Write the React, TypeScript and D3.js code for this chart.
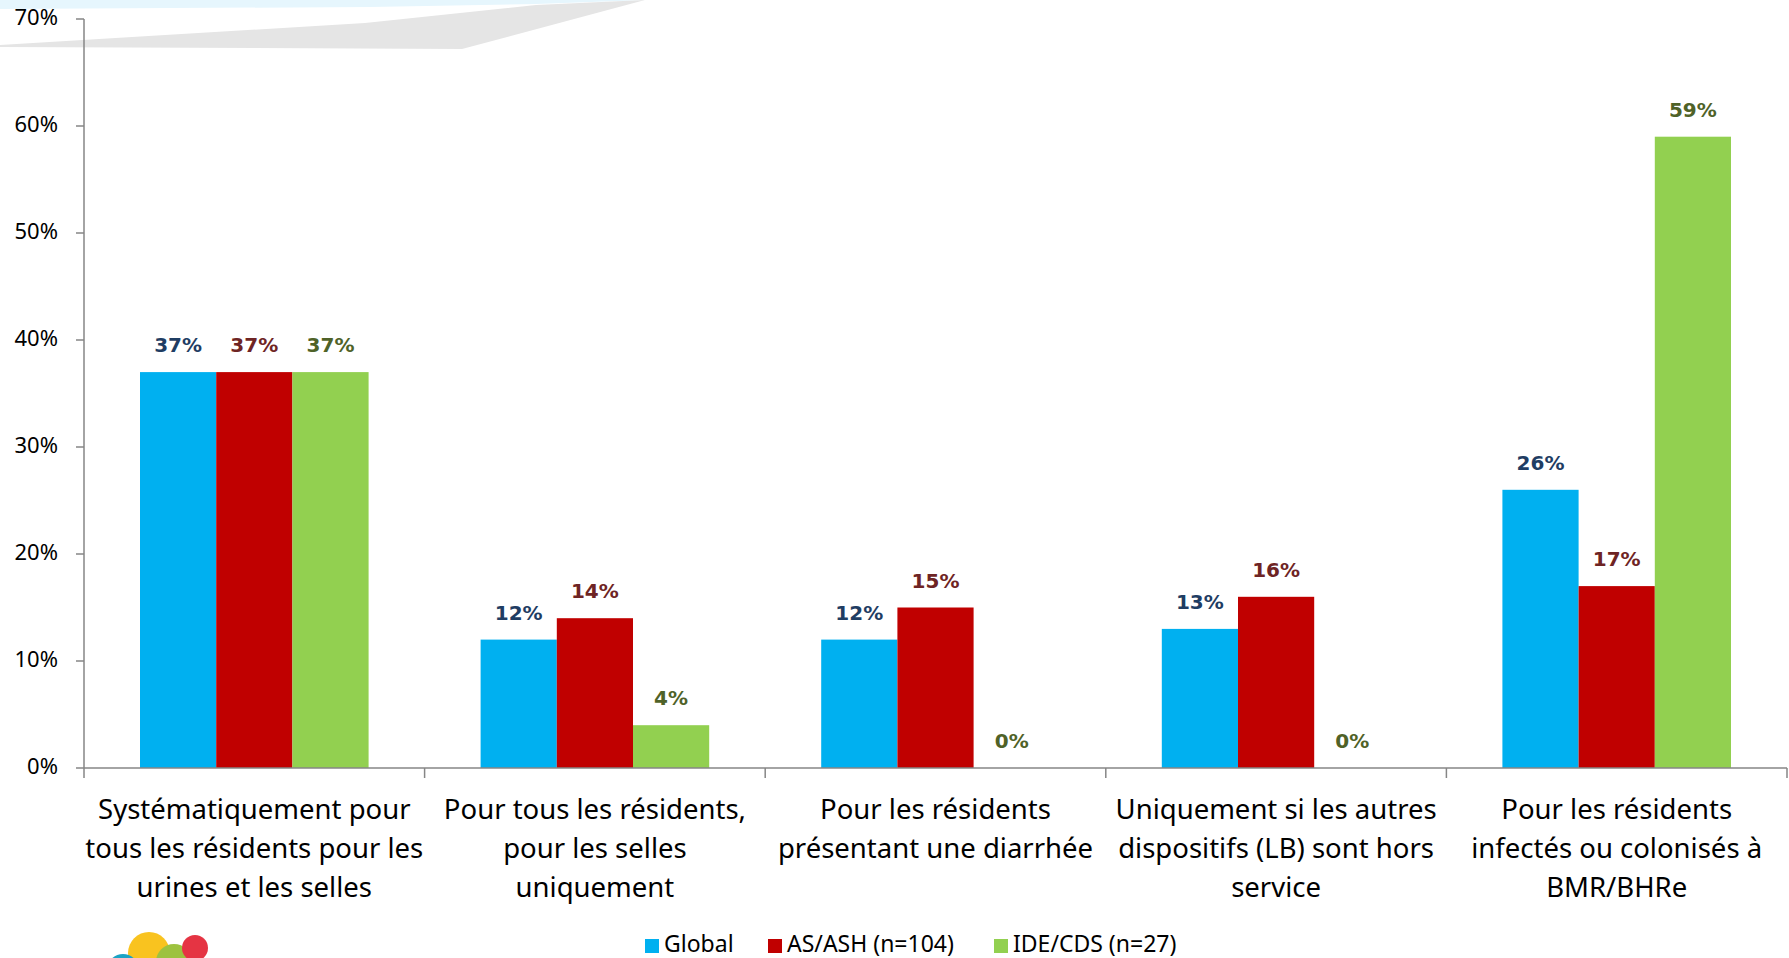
import React from 'react';
import * as d3 from 'd3';

const categories = [
  ['Systématiquement pour', 'tous les résidents pour les', 'urines et les selles'],
  ['Pour tous les résidents,', 'pour les selles', 'uniquement'],
  ['Pour les résidents', 'présentant une diarrhée'],
  ['Uniquement si les autres', 'dispositifs (LB) sont hors', 'service'],
  ['Pour les résidents', 'infectés ou colonisés à', 'BMR/BHRe'],
];
const seriesNames = ['Global', 'AS/ASH (n=104)', 'IDE/CDS (n=27)'];
const globalValues = [37, 12, 12, 13, 26];
const asAshValues = [37, 14, 15, 16, 17];
const ideCdsValues = [37, 4, 0, 0, 59];
const yTicks = [0, 10, 20, 30, 40, 50, 60, 70];

const barColors = ['#00B0F0', '#C00000', '#92D050'];
const labelColors = ['#1F3D63', '#6E2424', '#4F6228'];

const W = 1789;
const H = 958;
const left = 84;
const right = 1787;
const top = 19;
const bottom = 768;

export default function App() {
  const values = [globalValues, asAshValues, ideCdsValues];
  const idx = categories.map((_, i) => i);

  const x0 = d3.scaleBand<number>().domain(idx).range([left, right]);
  const x1 = d3.scaleBand<number>().domain([0, 1, 2]).range([0, x0.bandwidth()]).paddingOuter(0.735);
  const y = d3.scaleLinear().domain([0, 70]).range([bottom, top]);

  const axisColor = '#868686';
  const boundaries = idx.map((i) => x0(i)!).concat([right]);

  return (
    <svg width={W} height={H} style={{ position: 'absolute', left: 0, top: 0, background: '#fff' }}>
      {/* header decoration */}
      <path d="M0,0 L645,0 L536,4 L370,7 L0,9 Z" fill="#E6F6FD" />
      <path d="M0,45 L365,23 L536,5 L645,0 L462,49 L0,47 Z" fill="#E5E5E5" />

      {/* y axis */}
      <line x1={left} x2={left} y1={top} y2={bottom} stroke={axisColor} strokeWidth={1.5} />
      {yTicks.map((t) => (
        <g key={t}>
          <line x1={left - 8} x2={left} y1={y(t)} y2={y(t)} stroke={axisColor} strokeWidth={1.5} />
          <text x={58} y={y(t)} textAnchor="end" dominantBaseline="middle"
            fontFamily="'Noto Sans', sans-serif" fontSize={22} fill="#000">
            {t}%
          </text>
        </g>
      ))}

      {/* bars */}
      {values.map((vals, s) =>
        vals.map((v, i) => {
          const bx = x0(i)! + x1(s)!;
          return (
            <g key={`${s}-${i}`}>
              <rect x={bx} y={y(v)} width={x1.bandwidth()} height={bottom - y(v)} fill={barColors[s]} />
              <text x={bx + x1.bandwidth() / 2} y={y(v) - 20} textAnchor="middle"
                fontFamily="'DejaVu Sans', sans-serif" fontWeight="bold" fontSize={20} fill={labelColors[s]}>
                {v}%
              </text>
            </g>
          );
        })
      )}

      {/* x axis */}
      <line x1={left} x2={right} y1={bottom} y2={bottom} stroke={axisColor} strokeWidth={1.5} />
      {boundaries.map((b, i) => (
        <line key={i} x1={b} x2={b} y1={bottom} y2={bottom + 10} stroke={axisColor} strokeWidth={1.5} />
      ))}
      {categories.map((lines, i) => (
        <text key={i} textAnchor="middle" fontFamily="'Noto Sans', sans-serif" fontSize={27.5} fill="#000">
          {lines.map((l, j) => (
            <tspan key={j} x={x0(i)! + x0.bandwidth() / 2} y={819 + j * 39}>{l}</tspan>
          ))}
        </text>
      ))}

      {/* legend */}
      {[645, 768, 994].map((lx, s) => (
        <g key={s}>
          <rect x={lx} y={939} width={14} height={14} fill={barColors[s]} />
          <text x={lx + 19} y={946} dominantBaseline="middle" fontFamily="'Noto Sans', sans-serif" fontSize={23} fill="#000">
            {seriesNames[s]}
          </text>
        </g>
      ))}

      {/* logo */}
      <circle cx={149} cy={953} r={21} fill="#F9C31F" />
      <circle cx={123} cy={970} r={16} fill="#1BA3C4" />
      <circle cx={174} cy={962} r={18} fill="#9DC23F" />
      <circle cx={195} cy={948} r={13} fill="#E53443" />
    </svg>
  );
}
